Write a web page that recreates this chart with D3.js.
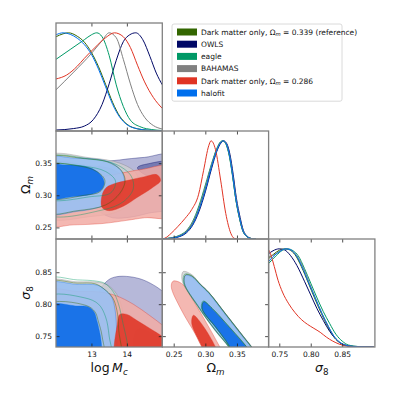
<!DOCTYPE html>
<html><head><meta charset="utf-8">
<script src="https://cdn.jsdelivr.net/npm/d3@7"></script>
<style>body{margin:0;background:#fff} svg{display:block} text{font-family:"DejaVu Sans",sans-serif}</style>
</head><body><svg id="c" width="399" height="399"></svg>
<script>
// ---------- data ----------
const seriesKeys   = ["dm339","owls","eagle","bahamas","dm286","halofit"];
const seriesLabels = ["Dark matter only, Ω_m = 0.339 (reference)","OWLS","eagle","BAHAMAS","Dark matter only, Ω_m = 0.286","halofit"];
const seriesColors = ["#336600","#000866","#009966","#808080","#E03424","#006FED"];
const McRange = [12, 15], OmRange = [0.232, 0.40], s8Range = [0.733, 0.902];
const McTicks = [13, 14], OmTicks = [0.25, 0.30, 0.35], s8Ticks = [0.75, 0.80, 0.85];
const McTickLabels = ["13","14"], OmTickLabels = ["0.25","0.30","0.35"], s8TickLabels = ["0.75","0.80","0.85"];

// 1D marginals [value, normalised density]
const halofitMc = [[12.0,0.98],[12.2,1.0],[12.4,0.985],[12.6,0.945],[12.8,0.88],[13.0,0.78],[13.2,0.63],[13.4,0.45],[13.6,0.27],[13.8,0.14],[14.0,0.065],[14.3,0.022],[14.6,0.008],[15.0,0.002]];
const dm339Mc   = [[12.0,0.96],[12.2,0.99],[12.35,1.0],[12.6,0.965],[12.8,0.905],[13.0,0.80],[13.2,0.655],[13.4,0.475],[13.6,0.29],[13.8,0.15],[14.0,0.07],[14.3,0.022],[14.6,0.008],[15.0,0.002]];
const eagleMc   = [[12.0,0.73],[12.4,0.83],[12.8,0.93],[13.0,0.98],[13.15,1.0],[13.3,0.96],[13.5,0.77],[13.7,0.47],[13.9,0.25],[14.1,0.11],[14.4,0.04],[14.7,0.015],[15.0,0.005]];
const bahamasMc = [[12.0,0.42],[12.5,0.6],[13.0,0.79],[13.3,0.92],[13.5,1.0],[13.7,0.95],[13.9,0.73],[14.1,0.48],[14.3,0.27],[14.5,0.14],[14.75,0.055],[15.0,0.02]];
const dm286Mc   = [[12.0,0.53],[12.3,0.57],[12.6,0.66],[12.8,0.74],[13.1,0.85],[13.4,0.95],[13.65,1.0],[13.9,0.96],[14.1,0.85],[14.3,0.67],[14.5,0.5],[14.75,0.34],[15.0,0.23]];
const owlsMc    = [[12.0,0.01],[12.5,0.025],[12.8,0.05],[13.05,0.115],[13.3,0.27],[13.5,0.48],[13.7,0.72],[13.9,0.91],[14.08,0.98],[14.25,1.0],[14.45,0.93],[14.65,0.76],[14.83,0.59],[15.0,0.47]];

const halofitOm = [[0.232,0.002],[0.24,0.004],[0.25,0.012],[0.26,0.03],[0.27,0.07],[0.28,0.15],[0.29,0.30],[0.30,0.50],[0.31,0.74],[0.318,0.90],[0.324,0.98],[0.328,1.0],[0.333,0.97],[0.338,0.86],[0.343,0.66],[0.348,0.42],[0.354,0.22],[0.359,0.09],[0.365,0.03],[0.372,0.005],[0.38,0.0]];
const dm339Om   = [[0.232,0.002],[0.24,0.005],[0.25,0.014],[0.26,0.033],[0.27,0.075],[0.28,0.16],[0.29,0.31],[0.30,0.52],[0.31,0.75],[0.318,0.91],[0.324,0.985],[0.328,1.0],[0.333,0.965],[0.338,0.85],[0.343,0.65],[0.348,0.41],[0.354,0.21],[0.359,0.085],[0.365,0.028],[0.372,0.005],[0.38,0.0]];
const eagleOm   = [[0.232,0.003],[0.24,0.007],[0.25,0.018],[0.26,0.04],[0.27,0.085],[0.28,0.18],[0.29,0.34],[0.30,0.55],[0.31,0.77],[0.318,0.92],[0.324,0.99],[0.328,1.0],[0.333,0.96],[0.338,0.84],[0.343,0.64],[0.348,0.41],[0.354,0.21],[0.359,0.09],[0.365,0.03],[0.372,0.006],[0.38,0.0]];
const bahamasOm = [[0.232,0.003],[0.24,0.006],[0.25,0.016],[0.26,0.036],[0.27,0.08],[0.28,0.17],[0.29,0.32],[0.30,0.53],[0.31,0.76],[0.318,0.91],[0.324,0.985],[0.328,1.0],[0.333,0.97],[0.338,0.86],[0.343,0.66],[0.348,0.43],[0.354,0.22],[0.359,0.095],[0.365,0.032],[0.372,0.006],[0.38,0.0]];
const dm286Om   = [[0.232,0.003],[0.2355,0.007],[0.246,0.058],[0.257,0.13],[0.268,0.21],[0.2785,0.30],[0.2892,0.45],[0.2973,0.70],[0.3054,0.95],[0.309,1.0],[0.3161,0.91],[0.3242,0.60],[0.3323,0.26],[0.3403,0.058],[0.3457,0.007],[0.352,0.0]];
const owlsOm    = [[0.232,0.001],[0.24,0.003],[0.25,0.01],[0.26,0.026],[0.27,0.062],[0.28,0.14],[0.29,0.28],[0.30,0.48],[0.31,0.72],[0.318,0.89],[0.325,0.98],[0.329,1.0],[0.334,0.97],[0.339,0.86],[0.344,0.66],[0.349,0.42],[0.355,0.22],[0.36,0.09],[0.366,0.03],[0.373,0.005],[0.38,0.0]];

const halofitS8 = [[0.733,0.87],[0.74,0.92],[0.75,0.97],[0.76,1.0],[0.768,0.99],[0.776,0.94],[0.786,0.82],[0.797,0.65],[0.807,0.50],[0.818,0.34],[0.828,0.21],[0.838,0.10],[0.848,0.04],[0.86,0.012],[0.875,0.003],[0.9,0.0]];
const dm339S8   = [[0.733,0.90],[0.74,0.94],[0.75,0.985],[0.758,1.0],[0.766,0.99],[0.775,0.94],[0.785,0.82],[0.796,0.655],[0.806,0.50],[0.817,0.34],[0.827,0.21],[0.837,0.10],[0.847,0.04],[0.86,0.011],[0.875,0.003],[0.9,0.0]];
const eagleS8   = [[0.733,0.85],[0.745,0.93],[0.755,0.985],[0.763,1.0],[0.772,0.98],[0.78,0.93],[0.79,0.80],[0.80,0.65],[0.81,0.50],[0.82,0.36],[0.83,0.24],[0.84,0.13],[0.85,0.06],[0.86,0.02],[0.875,0.005],[0.9,0.0]];
const bahamasS8 = [[0.733,0.92],[0.742,0.94],[0.752,0.98],[0.762,1.0],[0.77,0.98],[0.778,0.93],[0.788,0.81],[0.798,0.65],[0.808,0.49],[0.818,0.34],[0.828,0.21],[0.838,0.10],[0.848,0.04],[0.86,0.012],[0.875,0.003],[0.9,0.0]];
const dm286S8   = [[0.733,0.99],[0.736,0.95],[0.742,0.82],[0.748,0.68],[0.755,0.56],[0.765,0.44],[0.775,0.35],[0.785,0.28],[0.795,0.23],[0.805,0.19],[0.815,0.15],[0.825,0.10],[0.835,0.06],[0.845,0.03],[0.855,0.012],[0.87,0.003],[0.9,0.0]];
const owlsS8    = [[0.733,0.95],[0.74,0.98],[0.75,1.0],[0.758,0.99],[0.768,0.93],[0.778,0.83],[0.79,0.67],[0.80,0.53],[0.81,0.39],[0.82,0.27],[0.83,0.16],[0.84,0.08],[0.85,0.03],[0.865,0.008],[0.9,0.0]];

// 2D credible contours (68%, 95%) as [x, y] outlines
const halofitMcOm68 = [[11.7,0.346],[12.3,0.347],[12.8,0.345],[13.1,0.339],[13.3,0.329],[13.36,0.318],[13.25,0.307],[12.95,0.301],[12.5,0.298],[11.7,0.296]];
const halofitMcOm95 = [[11.7,0.357],[12.5,0.358],[13.0,0.357],[13.5,0.352],[13.8,0.341],[13.93,0.325],[13.85,0.305],[13.6,0.29],[13.2,0.281],[12.6,0.275],[11.7,0.273]];
const dm286McOm68   = [[13.3,0.300],[13.42,0.312],[13.7,0.319],[14.1,0.324],[14.5,0.329],[14.85,0.332],[14.95,0.323],[14.7,0.311],[14.3,0.297],[13.9,0.283],[13.5,0.276],[13.3,0.281]];
const dm286McOm95   = [[11.7,0.322],[12.5,0.324],[13.2,0.328],[13.8,0.334],[14.4,0.34],[15.3,0.344],[15.3,0.268],[14.5,0.265],[14.0,0.261],[13.3,0.256],[12.5,0.254],[11.7,0.254]];
const owlsMcOm68    = [[14.3,0.343],[14.6,0.349],[15.3,0.351],[15.3,0.318],[14.8,0.326],[14.45,0.334]];
const owlsMcOm95    = [[13.8,0.355],[13.3,0.350],[13.05,0.333],[12.98,0.31],[13.05,0.288],[13.25,0.274],[13.6,0.265],[14.1,0.266],[14.6,0.272],[15.3,0.283],[15.3,0.362],[14.5,0.359]];
const bahamasMcOm68 = [[11.7,0.348],[13.0,0.346],[13.6,0.34],[13.95,0.325],[13.8,0.305],[13.2,0.296],[11.7,0.294]];
const bahamasMcOm95 = [[11.7,0.36],[13.0,0.358],[13.8,0.35],[14.25,0.335],[14.35,0.315],[14.15,0.29],[13.7,0.274],[13.0,0.267],[11.7,0.267]];
const eagleMcOm68   = [[11.7,0.345],[12.8,0.345],[13.4,0.337],[13.68,0.322],[13.55,0.304],[13.0,0.298],[11.7,0.296]];
const eagleMcOm95   = [[11.7,0.357],[13.0,0.356],[13.7,0.348],[14.12,0.33],[14.18,0.31],[13.9,0.29],[13.3,0.277],[11.7,0.272]];
const dm339McOm68   = [[11.7,0.346],[12.6,0.346],[13.15,0.337],[13.38,0.323],[13.25,0.306],[12.8,0.300],[11.7,0.297]];
const dm339McOm95   = [[11.7,0.357],[12.8,0.357],[13.45,0.352],[13.85,0.338],[13.95,0.322],[13.8,0.303],[13.4,0.285],[12.6,0.276],[11.7,0.274]];

const halofitMcS868 = [[11.7,0.797],[12.6,0.797],[12.9,0.796],[13.07,0.788],[13.15,0.775],[13.24,0.754],[13.29,0.733],[13.3,0.70],[11.7,0.70]];
const halofitMcS895 = [[11.7,0.831],[12.6,0.831],[13.15,0.83],[13.35,0.824],[13.57,0.811],[13.67,0.79],[13.71,0.76],[13.72,0.72],[13.72,0.70],[11.7,0.70]];
const dm286McS868   = [[13.74,0.70],[13.74,0.772],[13.8,0.784],[14.0,0.784],[14.3,0.774],[14.65,0.762],[15.05,0.748],[15.3,0.738],[15.3,0.70]];
const dm286McS895   = [[11.7,0.820],[12.6,0.82],[13.24,0.819],[13.71,0.813],[14.18,0.80],[14.65,0.782],[15.03,0.766],[15.3,0.752],[15.3,0.70],[11.7,0.70]];
const owlsMcS868    = [[14.3,0.70],[14.3,0.76],[14.8,0.752],[15.3,0.745],[15.3,0.70]];
const owlsMcS895    = [[13.08,0.70],[13.08,0.76],[13.1,0.79],[13.24,0.822],[13.48,0.838],[13.71,0.843],[14.08,0.843],[14.46,0.838],[14.84,0.827],[15.03,0.819],[15.3,0.805],[15.3,0.70]];
const bahamasMcS868 = [[11.7,0.811],[12.8,0.811],[13.24,0.803],[13.43,0.785],[13.52,0.759],[13.56,0.70],[11.7,0.70]];
const bahamasMcS895 = [[11.7,0.835],[12.6,0.835],[13.24,0.834],[13.48,0.829],[13.71,0.816],[13.85,0.796],[13.94,0.764],[13.99,0.733],[14.0,0.70],[11.7,0.70]];
const eagleMcS868   = [[11.7,0.81],[12.8,0.81],[13.2,0.80],[13.4,0.78],[13.5,0.75],[13.55,0.70],[11.7,0.70]];
const eagleMcS895   = [[11.7,0.838],[12.6,0.838],[13.15,0.836],[13.38,0.8325],[13.62,0.819],[13.76,0.801],[13.89,0.77],[14.03,0.733],[14.05,0.70],[11.7,0.70]];
const dm339McS868   = [[11.7,0.798],[12.85,0.798],[13.1,0.788],[13.2,0.772],[13.3,0.75],[13.33,0.70],[11.7,0.70]];
const dm339McS895   = [[11.7,0.833],[12.6,0.833],[13.1,0.832],[13.35,0.824],[13.6,0.81],[13.72,0.79],[13.77,0.76],[13.78,0.70],[11.7,0.70]];

const halofitOmS868 = [[0.2973,0.804],[0.3107,0.793],[0.3376,0.764],[0.3564,0.743],[0.365,0.733],[0.375,0.72],[0.36,0.712],[0.345,0.724],[0.3322,0.743],[0.3161,0.764],[0.2946,0.793]];
const halofitOmS895 = [[0.2685,0.845],[0.2785,0.843],[0.292,0.830],[0.3054,0.817],[0.3322,0.783],[0.359,0.749],[0.3725,0.733],[0.385,0.715],[0.37,0.705],[0.345,0.72],[0.3376,0.733],[0.3161,0.759],[0.2892,0.796],[0.2667,0.8325]];
const dm286OmS868   = [[0.2812,0.7827],[0.2919,0.7722],[0.3134,0.7382],[0.318,0.725],[0.30,0.715],[0.2946,0.733],[0.2785,0.7696]];
const dm286OmS895   = [[0.249,0.836],[0.2623,0.8325],[0.2838,0.801],[0.3054,0.7644],[0.3215,0.7356],[0.33,0.72],[0.31,0.71],[0.2946,0.733],[0.2838,0.7539],[0.2623,0.7906],[0.2462,0.8272]];
const owlsOmS868    = [[0.2985,0.805],[0.3115,0.794],[0.338,0.765],[0.357,0.744],[0.366,0.733],[0.376,0.72],[0.361,0.712],[0.346,0.724],[0.333,0.743],[0.317,0.764],[0.2955,0.794]];
const owlsOmS895    = [[0.269,0.846],[0.279,0.844],[0.2925,0.831],[0.306,0.818],[0.333,0.784],[0.36,0.75],[0.3735,0.733],[0.386,0.715],[0.371,0.705],[0.346,0.72],[0.3385,0.733],[0.317,0.759],[0.29,0.796],[0.2675,0.833]];
const bahamasOmS868 = [[0.296,0.806],[0.31,0.795],[0.337,0.765],[0.356,0.744],[0.365,0.733],[0.375,0.72],[0.36,0.712],[0.344,0.724],[0.331,0.743],[0.315,0.765],[0.293,0.795]];
const bahamasOmS895 = [[0.265,0.851],[0.279,0.846],[0.292,0.831],[0.3054,0.818],[0.3322,0.784],[0.359,0.75],[0.3735,0.733],[0.386,0.715],[0.37,0.703],[0.344,0.72],[0.3366,0.733],[0.3151,0.759],[0.2882,0.796],[0.2635,0.836]];
const eagleOmS868   = [[0.2965,0.805],[0.3105,0.794],[0.3375,0.765],[0.3565,0.744],[0.3655,0.733],[0.376,0.72],[0.36,0.712],[0.345,0.724],[0.332,0.743],[0.316,0.764],[0.294,0.794]];
const eagleOmS895   = [[0.2675,0.847],[0.278,0.845],[0.2918,0.831],[0.3055,0.818],[0.3325,0.784],[0.3595,0.75],[0.373,0.733],[0.386,0.715],[0.37,0.704],[0.345,0.72],[0.3372,0.733],[0.3155,0.759],[0.2885,0.796],[0.2655,0.834]];
const dm339OmS868   = [[0.2975,0.804],[0.311,0.793],[0.338,0.764],[0.3568,0.743],[0.3655,0.733],[0.375,0.72],[0.36,0.712],[0.345,0.724],[0.3325,0.743],[0.3165,0.764],[0.295,0.793]];
const dm339OmS895   = [[0.2688,0.846],[0.2788,0.844],[0.2922,0.831],[0.3058,0.818],[0.3326,0.784],[0.3594,0.75],[0.3728,0.733],[0.385,0.715],[0.37,0.705],[0.345,0.72],[0.3378,0.733],[0.3163,0.759],[0.2894,0.796],[0.2668,0.833]];

// ---------- layout ----------
const svg = d3.select("#c");
const X0 = 56, Y0 = 23, W = 106.3, H = 108;
const ranges = [McRange, OmRange, s8Range];
const ticks = [McTicks, OmTicks, s8Ticks];
const tickLabels = [McTickLabels, OmTickLabels, s8TickLabels];
const sx = ranges.map((r, j) => d3.scaleLinear().domain(r).range([X0 + j*W, X0 + (j+1)*W]));
const sy = ranges.map((r, i) => d3.scaleLinear().domain(r).range([Y0 + (i+1)*H, Y0 + i*H]));
const sd = [0,1,2].map(i => d3.scaleLinear().domain([0, 1.1]).range([Y0 + (i+1)*H, Y0 + i*H]));

const fills = {
  halofit: {c95:"#9ac0f2", c68:"#1a73e8", op95:0.92, op68:1.0},
  dm286:   {c95:"#f2aca4", c68:"#e03a2a", op95:0.85, op68:0.92},
  bahamas: {c95:"#cfcfcf", c68:"#b0b0b0", op95:0.8, op68:0.8},
  owls:    {c95:"#a9abd2", c68:"#6a6fab", op95:0.85, op68:0.85}
};
const colorOf = k => seriesColors[seriesKeys.indexOf(k)];

const defs = svg.append("defs");
function clipFor(i, j) {
  const id = `clip${i}${j}`;
  defs.append("clipPath").attr("id", id).append("rect")
    .attr("x", X0 + j*W).attr("y", Y0 + i*H).attr("width", W).attr("height", H);
  return `url(#${id})`;
}

const data1D = {
  halofit:[halofitMc,halofitOm,halofitS8], dm339:[dm339Mc,dm339Om,dm339S8], eagle:[eagleMc,eagleOm,eagleS8],
  bahamas:[bahamasMc,bahamasOm,bahamasS8], dm286:[dm286Mc,dm286Om,dm286S8], owls:[owlsMc,owlsOm,owlsS8]
};
const data2D = {
  "1-0": {halofit:[halofitMcOm68,halofitMcOm95], dm286:[dm286McOm68,dm286McOm95], owls:[owlsMcOm68,owlsMcOm95], bahamas:[bahamasMcOm68,bahamasMcOm95], eagle:[eagleMcOm68,eagleMcOm95], dm339:[dm339McOm68,dm339McOm95]},
  "2-0": {halofit:[halofitMcS868,halofitMcS895], dm286:[dm286McS868,dm286McS895], owls:[owlsMcS868,owlsMcS895], bahamas:[bahamasMcS868,bahamasMcS895], eagle:[eagleMcS868,eagleMcS895], dm339:[dm339McS868,dm339McS895]},
  "2-1": {halofit:[halofitOmS868,halofitOmS895], dm286:[dm286OmS868,dm286OmS895], owls:[owlsOmS868,owlsOmS895], bahamas:[bahamasOmS868,bahamasOmS895], eagle:[eagleOmS868,eagleOmS895], dm339:[dm339OmS868,dm339OmS895]}
};

// ---------- 2D panels ----------
// layer order (bottom -> top): [series, level index 1 = 95%, 0 = 68%]
const layers = [["owls",1],["owls",0],["bahamas",1],["bahamas",0],["dm286",1],["halofit",1],["halofit",0],["dm286",0]];
const lineOnly = ["eagle","dm339"];
[[1,0],[2,0],[2,1]].forEach(([i,j]) => {
  const g = svg.append("g").attr("clip-path", clipFor(i,j));
  const line = d3.line().x(d => sx[j](d[0])).y(d => sy[i](d[1])).curve(d3.curveCatmullRomClosed.alpha(0.5));
  const set = data2D[`${i}-${j}`];
  layers.forEach(([k, lev]) => {
    const f = fills[k];
    g.append("path").attr("d", line(set[k][lev]))
      .attr("fill", lev ? f.c95 : f.c68).attr("fill-opacity", lev ? f.op95 : f.op68)
      .attr("stroke", colorOf(k)).attr("stroke-width", 0.5).attr("stroke-opacity", 0.7);
  });
  lineOnly.forEach(k => {
    set[k].forEach(c => g.append("path").attr("d", line(c)).attr("fill", "none")
      .attr("stroke", colorOf(k)).attr("stroke-width", 0.7).attr("stroke-opacity", 0.6));
  });
});

// ---------- 1D panels ----------
const order1D = ["dm339","owls","eagle","bahamas","dm286","halofit"];
[0,1,2].forEach(i => {
  const g = svg.append("g").attr("clip-path", clipFor(i,i));
  const line = d3.line().x(d => sx[i](d[0])).y(d => sd[i](d[1])).curve(d3.curveMonotoneX);
  order1D.forEach(k => {
    g.append("path").attr("d", line(data1D[k][i])).attr("fill", "none")
      .attr("stroke", colorOf(k)).attr("stroke-width", 1.0);
  });
});

// ---------- axes ----------
const tickStyle = sel => {
  sel.select(".domain").remove();
  sel.selectAll(".tick line").attr("stroke", "#222").attr("stroke-width", 0.8);
  sel.selectAll(".tick text").attr("font-size", 7.5).attr("fill", "#111").attr("font-family", "DejaVu Sans");
};
const panels = [[0,0],[1,0],[1,1],[2,0],[2,1],[2,2]];
panels.forEach(([i,j]) => {
  const x0 = X0 + j*W, y0 = Y0 + i*H;
  const fmt = (arr, lab) => (d => lab[arr.indexOf(d)]);
  const bottom = d3.axisBottom(sx[j]).tickValues(ticks[j]).tickSizeInner(-3.5).tickSizeOuter(0).tickPadding(5)
    .tickFormat(i === 2 ? fmt(ticks[j], tickLabels[j]) : () => "");
  svg.append("g").attr("transform", `translate(0,${y0 + H})`).call(bottom).call(tickStyle);
  const top = d3.axisTop(sx[j]).tickValues(ticks[j]).tickSizeInner(-3.5).tickSizeOuter(0).tickFormat(() => "");
  svg.append("g").attr("transform", `translate(0,${y0})`).call(top).call(tickStyle);
  if (i !== j) {
    const left = d3.axisLeft(sy[i]).tickValues(ticks[i]).tickSizeInner(-3.5).tickSizeOuter(0).tickPadding(4)
      .tickFormat(j === 0 ? fmt(ticks[i], tickLabels[i]) : () => "");
    svg.append("g").attr("transform", `translate(${x0},0)`).call(left).call(tickStyle);
    const right = d3.axisRight(sy[i]).tickValues(ticks[i]).tickSizeInner(-3.5).tickSizeOuter(0).tickFormat(() => "");
    svg.append("g").attr("transform", `translate(${x0 + W},0)`).call(right).call(tickStyle);
  }
  svg.append("rect").attr("x", x0).attr("y", y0).attr("width", W).attr("height", H)
    .attr("fill", "none").attr("stroke", "#808080").attr("stroke-width", 1.3);
});

// ---------- axis labels ----------
function mathLabel(g, parts, size) {
  const t = g.append("text").attr("font-size", size).attr("text-anchor", "middle").attr("fill", "#111");
  parts.forEach(p => {
    const s = t.append("tspan").text(p.t);
    if (p.it) s.attr("font-style", "italic");
    if (p.sub) s.attr("font-size", size*0.7).attr("dy", size*0.22);
  });
  return t;
}
const labSize = 12.5;
const xLabY = 372;
mathLabel(svg.append("g").attr("transform", `translate(${X0 + 0.5*W},${xLabY})`),
  [{t:"log\u2009"},{t:"M",it:true},{t:"c",it:true,sub:true}], labSize);
mathLabel(svg.append("g").attr("transform", `translate(${X0 + 1.5*W},${xLabY})`),
  [{t:"Ω"},{t:"m",it:true,sub:true}], labSize);
mathLabel(svg.append("g").attr("transform", `translate(${X0 + 2.5*W},${xLabY})`),
  [{t:"σ",it:true},{t:"8",sub:true}], labSize);
mathLabel(svg.append("g").attr("transform", `translate(30,${Y0 + 1.5*H}) rotate(-90)`),
  [{t:"Ω"},{t:"m",it:true,sub:true}], labSize);
mathLabel(svg.append("g").attr("transform", `translate(30,${Y0 + 2.5*H}) rotate(-90)`),
  [{t:"σ",it:true},{t:"8",sub:true}], labSize);

// ---------- legend ----------
const lg = svg.append("g");
const lgX = 172, lgY = 24, rowH = 12.2;
const legendW = 170, legendH = 6*rowH + 4;
lg.append("rect").attr("x", lgX).attr("y", lgY).attr("width", legendW).attr("height", legendH)
  .attr("rx", 2).attr("fill", "#fff").attr("fill-opacity", 0.8).attr("stroke", "#d0d0d0").attr("stroke-width", 0.8);
seriesKeys.forEach((k, idx) => {
  const cy = lgY + 8 + idx*rowH;
  lg.append("rect").attr("x", lgX + 5).attr("y", cy - 3.5).attr("width", 20).attr("height", 7).attr("fill", seriesColors[idx]);
  const t = lg.append("text").attr("x", lgX + 29).attr("y", cy + 2.8).attr("font-size", 7.5).attr("fill", "#111");
  const lab = seriesLabels[idx];
  const m = lab.indexOf("Ω_m");
  if (m >= 0) {
    t.append("tspan").text(lab.slice(0, m) + "Ω");
    t.append("tspan").text("m").attr("font-style", "italic").attr("font-size", 5.3).attr("dy", 1.6);
    t.append("tspan").text(lab.slice(m + 3)).attr("dy", -1.6);
  } else t.text(lab);
});
</script></body></html>
